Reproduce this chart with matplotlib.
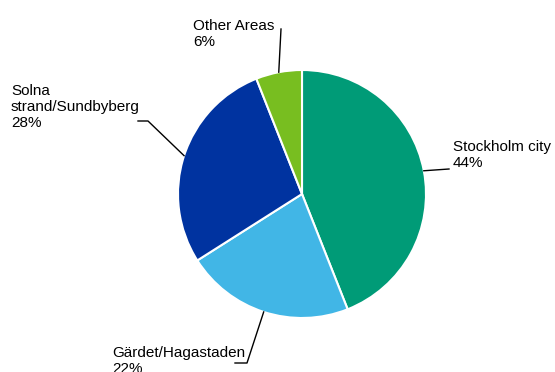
import numpy as np
import matplotlib.pyplot as plt

# Share of floor area by district
areas = ["Stockholm city", "Gärdet/Hagastaden", "Solna\nstrand/Sundbyberg", "Other Areas"]
shares = [44, 22, 28, 6]
colors = ["#009B77", "#41B6E6", "#0033A0", "#78BE20"]

plt.rcParams['font.family'] = ['Liberation Sans', 'DejaVu Sans']

fig = plt.figure(figsize=(5.55, 3.72), dpi=100)
ax = fig.add_axes([0, 0, 1, 1])
ax.set_xlim(0, 555)
ax.set_ylim(372, 0)  # work in pixel coordinates, y down
ax.axis('off')

cx, cy, r = 302, 194, 124
wedges, _ = ax.pie(shares, colors=colors, startangle=-90, counterclock=True,
                   center=(cx, cy), radius=r, frame=True,
                   wedgeprops=dict(edgecolor='white', linewidth=1.5))
ax.set_xlim(0, 555)
ax.set_ylim(372, 0)
ax.axis('off')

# leader line bends / ends and label anchors for each slice
leader_pts = [
    [(449, 169)],
    [(247, 363), (235, 363)],
    [(148, 121), (138, 121)],
    [(281, 29)],
]
label_pos = [(453, 155, 'left'), (112, 361, 'left'), (11, 107, 'left'), (193, 34, 'left')]

for w, name, pct, pts, (tx, ty, ha) in zip(wedges, areas, shares, leader_pts, label_pos):
    mid = np.deg2rad((w.theta1 + w.theta2) / 2)
    sx, sy = cx + r * np.cos(mid), cy + r * np.sin(mid)
    xs = [sx] + [p[0] for p in pts]
    ys = [sy] + [p[1] for p in pts]
    ax.plot(xs, ys, color='black', linewidth=1)
    ax.text(tx, ty, f"{name}\n{pct}%", ha=ha, va='center', fontsize=11,
            linespacing=1.15)

fig.savefig("out.png", dpi=100)
